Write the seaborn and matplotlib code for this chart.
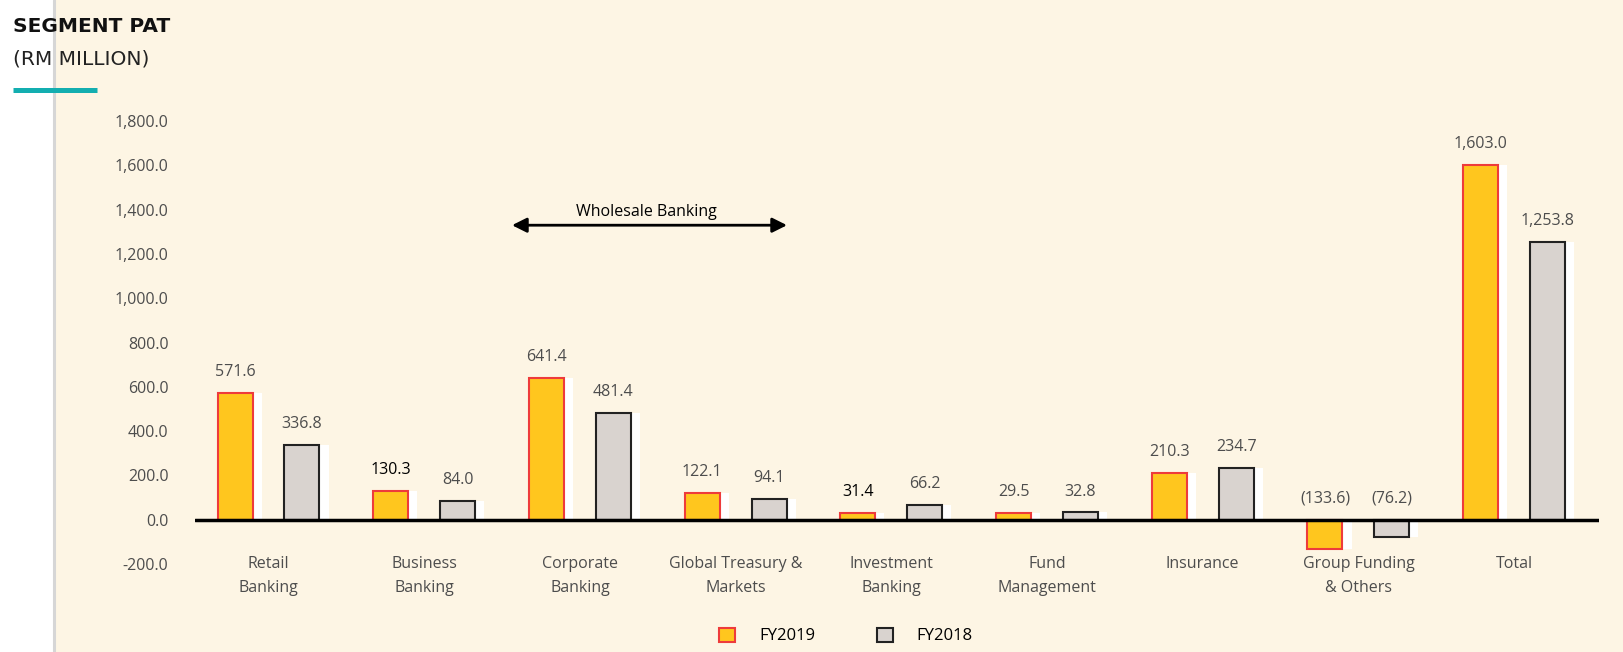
import numpy as np
import pandas as pd
import matplotlib
matplotlib.use("Agg")
import matplotlib.pyplot as plt
import seaborn as sns
from matplotlib.patches import Rectangle, Patch
from matplotlib.lines import Line2D

# ---------------- data ----------------
categories = ["Retail\nBanking", "Business\nBanking", "Corporate\nBanking",
              "Global Treasury &\nMarkets", "Investment\nBanking", "Fund\nManagement",
              "Insurance", "Group Funding\n& Others", "Total"]
fy2019 = [571.6, 130.3, 641.4, 122.1, 31.4, 29.5, 210.3, -133.6, 1603.0]
fy2018 = [336.8, 84.0, 481.4, 94.1, 66.2, 32.8, 234.7, -76.2, 1253.8]
years = ["FY2019", "FY2018"]
yticks = [-200, 0, 200, 400, 600, 800, 1000, 1200, 1400, 1600, 1800]

# ---------------- style ----------------
W, H = 1623, 652
CREAM = "#fdf5e4"
YELLOW = "#ffc61e"
RED = "#ee3b3b"
GRAY = "#d9d3cf"
DARK = "#222222"
TXT = "#4d4d4d"
TEAL = "#13aeb0"
FS = 11.5

sns.set_theme(style="white")
plt.rcParams['font.family'] = ['Open Sans', 'DejaVu Sans']

df = pd.DataFrame({
    "category": categories * 2,
    "value": fy2019 + fy2018,
    "year": [years[0]] * len(categories) + [years[1]] * len(categories),
})

fig = plt.figure(figsize=(W / 100, H / 100), dpi=100)
fig.patch.set_facecolor("white")
fig.add_artist(Rectangle((55 / W, 0), 1 - 55 / W, 1, transform=fig.transFigure,
                         facecolor=CREAM, edgecolor="none", zorder=0))
fig.add_artist(Line2D([54 / W, 54 / W], [0, 1], transform=fig.transFigure,
                      color="#d6d6d6", lw=2.2, zorder=1))

ax = fig.add_axes([195 / W, 1 - 564 / H, 1404 / W, 465 / H])
ax.patch.set_alpha(0)

off = 0.215
bw = 0.225
shift = 0.058

sns.barplot(data=df, x="category", y="value", hue="year", hue_order=years,
            palette=[YELLOW, GRAY], width=0.86, gap=0.477, errorbar=None,
            saturation=1, legend=False, ax=ax, zorder=3, linewidth=1.5)
for cont, ec in zip(ax.containers, [RED, DARK]):
    for p in cont:
        p.set_edgecolor(ec)
        p.set_linewidth(1.5)

x = np.arange(len(categories))
# white offset shadows behind bars
ax.bar(x - off + shift, fy2019, width=bw, color="white", zorder=2, linewidth=0)
ax.bar(x + off + shift, fy2018, width=bw, color="white", zorder=2, linewidth=0)

ax.axhline(0, color="black", lw=2.5, zorder=4)

# value labels
dark_labels = {(0, 1), (0, 4)}
for s, (vals, dx) in enumerate([(fy2019, -off), (fy2018, off)]):
    for i, v in enumerate(vals):
        txt = f"{v:,.1f}" if v >= 0 else f"({abs(v):,.1f})"
        col = "black" if (s, i) in dark_labels else TXT
        ax.annotate(txt, xy=(x[i] + dx, max(v, 0)), xytext=(0, 15),
                    textcoords="offset points", ha="center", va="center",
                    fontsize=FS, color=col)

# wholesale banking arrow
ax.annotate("", xy=(3.33, 1330), xytext=(1.564, 1330),
            arrowprops=dict(arrowstyle="<|-|>", color="black", lw=2,
                            mutation_scale=22, shrinkA=0, shrinkB=0))
ax.text(2.43, 1390, "Wholesale Banking", ha="center", va="center",
        fontsize=FS, color="black")

ax.set_xlim(-0.472, 8.545)
ax.set_ylim(-200, 1900)
ax.set_yticks(yticks)
ax.set_yticklabels([f"{t:,.1f}" for t in yticks])
ax.set_xlabel("")
ax.set_ylabel("")
ax.tick_params(axis="y", length=0, pad=19, labelsize=FS, labelcolor=TXT)
ax.tick_params(axis="x", length=0, pad=-6, labelsize=FS, labelcolor=TXT)
for lab in ax.get_xticklabels():
    lab.set_linespacing(1.7)
for sp in ax.spines.values():
    sp.set_visible(False)
ax.grid(False)

# legend
handles = [Patch(facecolor=YELLOW, edgecolor=RED, linewidth=1.5, label=years[0]),
           Patch(facecolor=GRAY, edgecolor=DARK, linewidth=1.5, label=years[1])]
fig.legend(handles=handles, loc="center", bbox_to_anchor=(846 / W, 1 - 636 / H),
           ncol=2, frameon=False, handlelength=0.95, handleheight=0.95,
           handletextpad=1.45, columnspacing=3.7, fontsize=12, labelcolor="black")

# title block
fig.text(13 / W, 1 - 27 / H, "SEGMENT PAT", fontsize=14.5, fontweight="bold",
         family="DejaVu Sans", va="center", ha="left", color="#111111")
fig.text(13 / W, 1 - 59 / H, "(RM MILLION)", fontsize=14.5,
         family="DejaVu Sans", va="center", ha="left", color="#222222")
fig.add_artist(Line2D([13 / W, 97 / W], [1 - 90 / H, 1 - 90 / H],
                      transform=fig.transFigure, color=TEAL, lw=3.6,
                      solid_capstyle="butt"))

fig.savefig("out.png", dpi=100, facecolor=fig.get_facecolor())
